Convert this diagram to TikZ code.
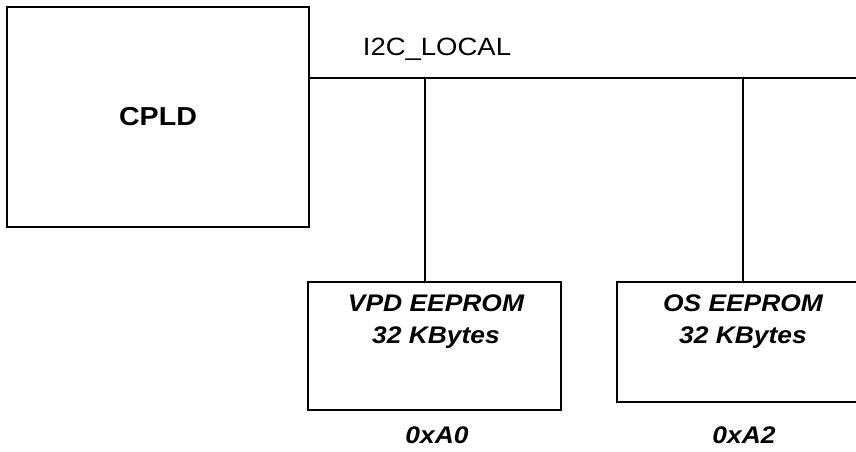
\documentclass[tikz,border=0pt]{standalone}
\usepackage{fontspec}
\setmainfont{Liberation Sans}[FakeStretch=1.1]
\begin{document}
\begin{tikzpicture}[x=1pt,y=-1pt,
  box/.style={draw, line width=2pt, inner sep=0pt},
  bus/.style={line width=1.5pt},
  conn/.style={line width=2pt},
  eefont/.style={font=\fontsize{24}{32}\selectfont\bfseries\itshape, align=center},
  addr/.style={font=\fontsize{24}{24}\selectfont\bfseries\itshape}]
\useasboundingbox (0,0) rectangle (856,452);
\clip (0,0) rectangle (856,452);
% CPLD
\node[box, minimum width=302pt, minimum height=220pt,
      font=\fontsize{26}{26}\selectfont\bfseries] (cpld) at (158,117) {CPLD};
% bus
\coordinate (t1) at (425,78);
\coordinate (t2) at (742.5,78);
\coordinate (busend) at (862,78);
\draw[bus] (cpld.east |- t1) -- (busend);
\node[font=\fontsize{25}{25}\selectfont] (i2c) at (437,49) {I2C\_LOCAL};
% VPD EEPROM
\node[box, minimum width=253pt, minimum height=128pt] (vpd) at (434.5,346) {};
\node[eefont] (vpdt) at (436,322) {VPD EEPROM\\32 KBytes};
\node[addr] (vpda) at (437,435) {0xA0};
\draw[conn] (t1) -- (t1 |- vpd.north);
% OS EEPROM
\node[box, minimum width=252pt, minimum height=120pt] (os) at (743,342) {};
\node[eefont] (ost) at (743,322) {OS EEPROM\\32 KBytes};
\node[addr] (osa) at (744,435) {0xA2};
\draw[conn] (t2) -- (t2 |- os.north);
\end{tikzpicture}
\end{document}
